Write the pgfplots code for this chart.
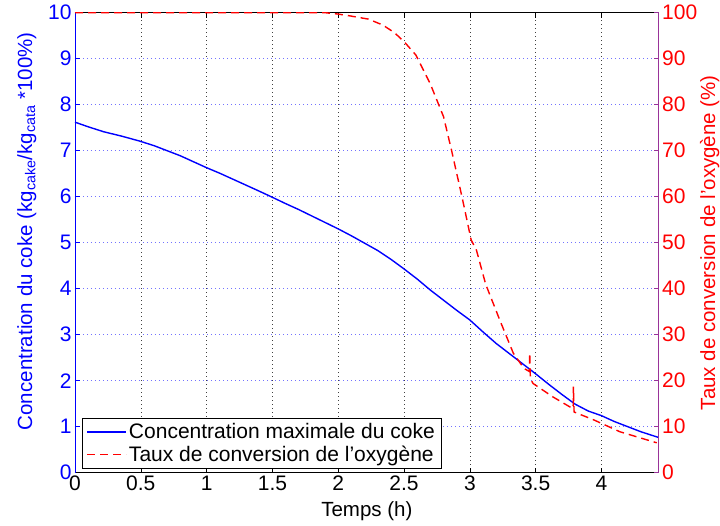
\documentclass[border=0pt]{standalone}
\usepackage{fontspec}
\setmainfont{Liberation Sans}
\usepackage{pgfplots}
\pgfplotsset{compat=1.18}
\definecolor{mblue}{rgb}{0,0,1}
\definecolor{mred}{rgb}{1,0,0}
\definecolor{mpurple}{rgb}{0.6,0.2,0.6}
\newcommand{\ff}{\fontsize{21bp}{25bp}\selectfont}
\newcommand{\fl}{\fontsize{20.5bp}{24bp}\selectfont}

\pgfplotstableread{
x y
0.00 7.62
0.10 7.52
0.22 7.41
0.35 7.32
0.49 7.21
0.60 7.11
0.70 7.00
0.80 6.89
0.90 6.76
1.00 6.63
1.10 6.51
1.20 6.38
1.30 6.25
1.40 6.12
1.49 6.00
1.60 5.85
1.70 5.72
1.80 5.58
1.90 5.44
2.00 5.30
2.10 5.15
2.20 4.99
2.30 4.83
2.40 4.64
2.50 4.43
2.60 4.21
2.70 3.97
2.80 3.75
2.90 3.53
3.00 3.32
3.10 3.06
3.20 2.81
3.30 2.59
3.40 2.37
3.50 2.15
3.60 1.92
3.70 1.70
3.80 1.49
3.90 1.34
4.00 1.24
4.10 1.11
4.20 1.00
4.30 0.89
4.44 0.76
}\coke

\pgfplotstableread{
x y
0.00 100
1.90 100
2.00 99.7
2.09 99.3
2.23 98.6
2.34 97.3
2.43 95.6
2.51 93.4
2.59 90.8
2.70 84.5
2.80 77.4
2.86 70.2
2.94 60.0
3.01 50.6
3.05 48.4
3.12 41.0
3.23 33.0
3.33 26.0
3.41 22.7
3.452 22.0
3.455 26.0
3.460 20.5
3.48 19.4
3.63 16.5
3.76 14.3
3.785 14.0
3.787 18.7
3.792 13.2
3.94 11.5
4.14 8.9
4.42 6.5
}\conv

\begin{document}
\begin{tikzpicture}
\pgfplotsset{
  base/.style={
    scale only axis, width=583.7bp, height=460bp, at={(0,0)}, anchor=south west,
    xmin=0, xmax=4.435,
    tick label style={font=\ff},
    label style={font=\fl, inner sep=0pt},
    /pgf/number format/assume math mode=true,
    major tick length=5bp,
    tick align=inside,
  }
}
\begin{axis}[base,
  ymin=0, ymax=10, ytick={0,1,2,3,4,5,6,7,8,9,10},
  xtick={0,0.5,1,1.5,2,2.5,3,3.5,4},
  ytick pos=left, xtick pos=both,
  separate axis lines,
  x axis line style={black, line width=0.8bp},
  y axis line style={mblue, line width=0.8bp},
  xtick style={black, line width=0.6bp},
  ytick style={mblue, line width=0.6bp},
  yticklabel style={mblue},
  xticklabel style={black},
  xmajorgrids, ymajorgrids,
  major x grid style={black!75, line width=0.6bp, dash pattern=on 0.8bp off 3.2bp},
  major y grid style={blue!55, line width=0.6bp, dash pattern=on 0.8bp off 3.2bp},
  xlabel={Temps (h)},
  xlabel style={at={(axis description cs:0.5,-0.0833)}, anchor=center},
  ylabel={Concentration du coke (kg\textsubscript{cake}/kg\textsubscript{cata} *100\%)},
  ylabel style={mblue, at={(axis description cs:-0.0736,0.958)}, anchor=base east},
]
\addplot[mblue, line width=1.4bp] table[x=x, y=y] {\coke};
\end{axis}
\begin{axis}[base,
  ymin=0, ymax=100, ytick={0,10,20,30,40,50,60,70,80,90,100},
  xtick=\empty,
  axis y line*=right, axis x line=none,
  y axis line style={mpurple, line width=0.8bp},
  ytick style={mpurple, line width=0.6bp},
  yticklabel style={mred},
  ylabel={Taux de conversion de l'oxygène (\%)},
  ylabel style={mred, at={(axis description cs:1.0965,0.8646)}, anchor=base east},
  legend style={at={(axis description cs:0.012,0.01)}, anchor=south west,
    draw=black, fill=white, font=\ff,
    inner xsep=4bp, inner ysep=3bp, row sep=2bp,
    legend cell align=left},
  legend image code/.code={\draw[#1] (0bp,0bp) -- (39bp,0bp);},
  every legend image post/.style={line width=1.8bp},
]
% legend sample only (lies outside the visible range)
\addplot[mblue, line width=1.4bp] coordinates {(-1,-10) (-0.9,-10)};
\addlegendentry{Concentration maximale du coke}
\addplot[mred, line width=1.4bp, dash pattern=on 8bp off 5bp] table[x=x, y=y] {\conv};
\addlegendentry{Taux de conversion de l'oxygène}
\end{axis}
\path[use as bounding box] (-75bp,-53.3bp) rectangle (645bp,472.7bp);
\end{tikzpicture}
\end{document}
